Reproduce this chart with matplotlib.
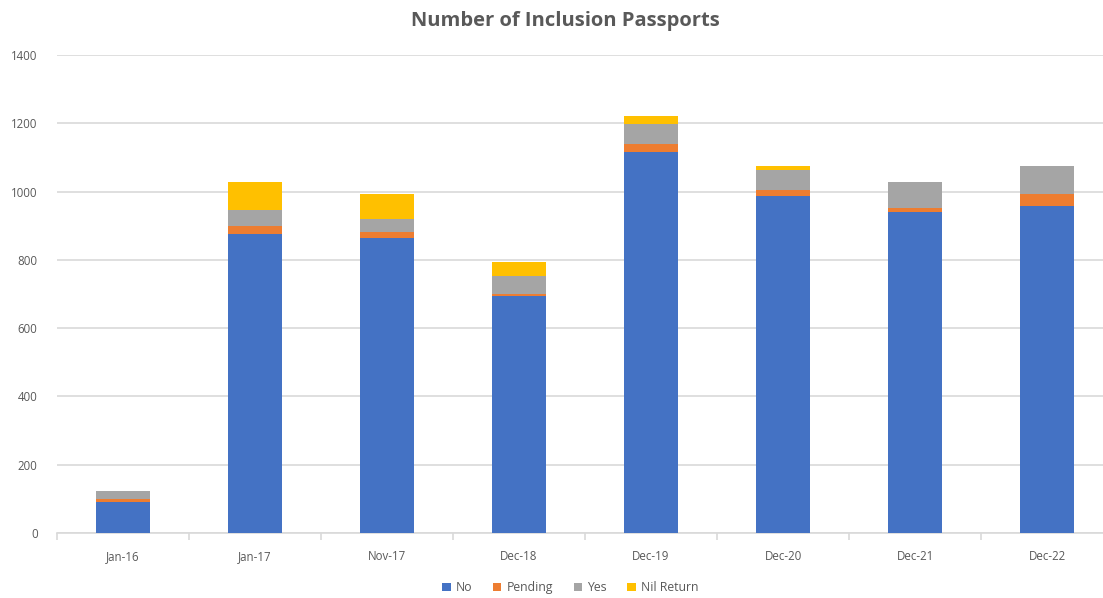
import numpy as np
import matplotlib
matplotlib.use("Agg")
import matplotlib.pyplot as plt

categories = ["Jan-16", "Jan-17", "Nov-17", "Dec-18", "Dec-19", "Dec-20", "Dec-21", "Dec-22"]
no_vals = [90, 875, 863, 693, 1115, 986, 940, 957]
pending_vals = [10, 23, 18, 8, 24, 18, 12, 36]
yes_vals = [24, 47, 40, 51, 58, 58, 75, 82]
nil_vals = [0, 82, 71, 41, 24, 12, 0, 0]

series = [("No", no_vals, "#4472C4"),
          ("Pending", pending_vals, "#ED7D31"),
          ("Yes", yes_vals, "#A5A5A5"),
          ("Nil Return", nil_vals, "#FFC000")]

plt.rcParams['font.family'] = ['Open Sans', 'DejaVu Sans']
txt = "#595959"

fig = plt.figure(figsize=(11.03, 5.98), dpi=100)
ax = fig.add_axes([57 / 1103, 65 / 598, 1056 / 1103, 478 / 598])

x = np.arange(len(categories))
bottom = np.zeros(len(categories))
handles = []
for name, vals, col in series:
    h = ax.bar(x, vals, 0.41, bottom=bottom, color=col, label=name, zorder=3)
    handles.append(h)
    bottom += np.array(vals)

ax.set_xlim(-0.5, len(categories) - 0.5)
ax.set_ylim(0, 1400)
ax.set_yticks(range(0, 1401, 200))
ax.grid(axis='y', color='#D9D9D9', linewidth=1.2, zorder=0)

for s in ['top', 'right', 'left']:
    ax.spines[s].set_visible(False)
ax.spines['bottom'].set_color('#D9D9D9')
ax.spines['bottom'].set_linewidth(1.2)

ax.set_xticks(x)
ax.set_xticklabels(categories)
ax.set_xticks(np.arange(-0.5, len(categories), 1), minor=True)
ax.tick_params(axis='x', which='major', length=0, pad=12, labelsize=8.3, labelcolor=txt)
ax.tick_params(axis='x', which='minor', length=5, color='#D9D9D9', width=1.2)
ax.tick_params(axis='y', length=0, pad=14, labelsize=8.3, labelcolor=txt)

fig.text(0.513, 0.965, "Number of Inclusion Passports", ha='center', va='center',
         fontsize=14.5, fontweight='bold', color=txt)

fig.legend(handles=handles, loc='center', bbox_to_anchor=(0.517, 0.017), ncol=4,
           frameon=False, fontsize=8.8, labelcolor=txt, handlelength=0.7,
           handleheight=0.7, handletextpad=0.4, columnspacing=1.7)

fig.savefig("out.png", dpi=100)
